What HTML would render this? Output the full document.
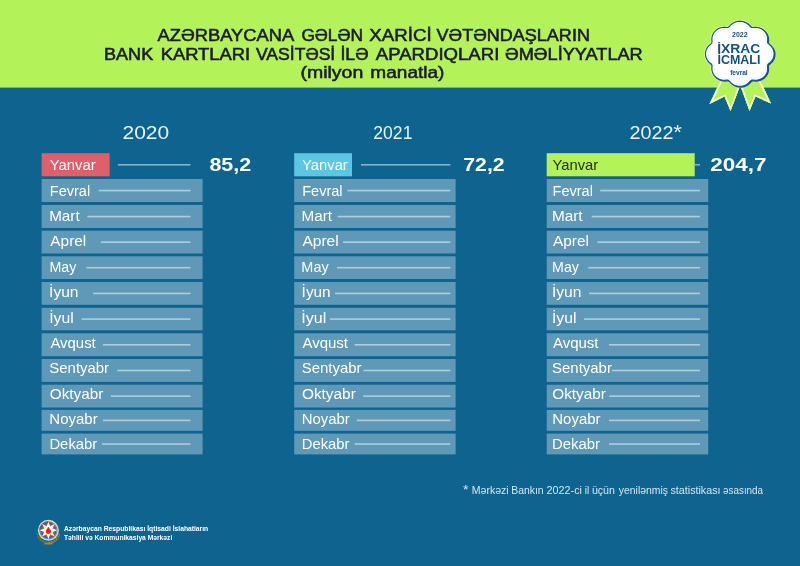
<!DOCTYPE html>
<html lang="az"><head><meta charset="utf-8"><title>Infographic</title><style>
html,body{margin:0;padding:0}
body{width:800px;height:566px;overflow:hidden;background:#0e648f;position:relative;font-family:"Liberation Sans",sans-serif}
.h{position:absolute;left:0;top:0;width:800px;height:87px;background:#b4f25a}
.h2{position:absolute;left:0;top:87px;width:800px;height:1px;background:#b4f25a;opacity:0.6}
svg{position:absolute;left:0;top:0;will-change:transform}
text{font-family:"Liberation Sans",sans-serif;white-space:pre}
</style></head>
<body>
<div class="h"></div><div class="h2"></div>
<svg width="800" height="566" viewBox="0 0 800 566">
<rect x="41.6" y="153.2" width="68.0" height="23.1" fill="#e0606a"/>
<rect x="117.9" y="164.00" width="72.6" height="1.6" fill="#fff" fill-opacity="0.5"/>
<rect x="41.6" y="179.0" width="161.0" height="23.0" fill="#6099b7"/>
<rect x="98.7" y="189.75" width="91.8" height="1.6" fill="#fff" fill-opacity="0.5"/>
<rect x="41.6" y="205.0" width="161.0" height="23.0" fill="#6099b7"/>
<rect x="87.2" y="215.75" width="103.3" height="1.6" fill="#fff" fill-opacity="0.5"/>
<rect x="41.6" y="230.7" width="161.0" height="22.8" fill="#6099b7"/>
<rect x="100.8" y="241.35" width="89.7" height="1.6" fill="#fff" fill-opacity="0.5"/>
<rect x="41.6" y="256.3" width="161.0" height="22.7" fill="#6099b7"/>
<rect x="86.4" y="266.90" width="104.1" height="1.6" fill="#fff" fill-opacity="0.5"/>
<rect x="41.6" y="282.0" width="161.0" height="22.8" fill="#6099b7"/>
<rect x="93.1" y="292.65" width="97.4" height="1.6" fill="#fff" fill-opacity="0.5"/>
<rect x="41.6" y="307.8" width="161.0" height="22.5" fill="#6099b7"/>
<rect x="81.6" y="318.30" width="108.9" height="1.6" fill="#fff" fill-opacity="0.5"/>
<rect x="41.6" y="333.3" width="161.0" height="22.9" fill="#6099b7"/>
<rect x="103" y="344.00" width="87.5" height="1.6" fill="#fff" fill-opacity="0.5"/>
<rect x="41.6" y="359.0" width="161.0" height="22.9" fill="#6099b7"/>
<rect x="117.3" y="369.70" width="73.2" height="1.6" fill="#fff" fill-opacity="0.5"/>
<rect x="41.6" y="384.7" width="161.0" height="22.8" fill="#6099b7"/>
<rect x="110.9" y="395.35" width="79.6" height="1.6" fill="#fff" fill-opacity="0.5"/>
<rect x="41.6" y="409.9" width="161.0" height="20.9" fill="#6099b7"/>
<rect x="103" y="419.60" width="87.5" height="1.6" fill="#fff" fill-opacity="0.5"/>
<rect x="41.6" y="433.6" width="161.0" height="20.8" fill="#6099b7"/>
<rect x="101.9" y="443.25" width="88.6" height="1.6" fill="#fff" fill-opacity="0.5"/>
<rect x="294.2" y="153.2" width="57.8" height="23.1" fill="#5cc7e3"/>
<rect x="361" y="164.00" width="89.4" height="1.6" fill="#fff" fill-opacity="0.5"/>
<rect x="294.2" y="179.0" width="161.4" height="23.0" fill="#6099b7"/>
<rect x="347.5" y="189.75" width="102.9" height="1.6" fill="#fff" fill-opacity="0.5"/>
<rect x="294.2" y="205.0" width="161.4" height="23.0" fill="#6099b7"/>
<rect x="337.6" y="215.75" width="112.8" height="1.6" fill="#fff" fill-opacity="0.5"/>
<rect x="294.2" y="230.7" width="161.4" height="22.8" fill="#6099b7"/>
<rect x="343" y="241.35" width="107.4" height="1.6" fill="#fff" fill-opacity="0.5"/>
<rect x="294.2" y="256.3" width="161.4" height="22.7" fill="#6099b7"/>
<rect x="337" y="266.90" width="113.4" height="1.6" fill="#fff" fill-opacity="0.5"/>
<rect x="294.2" y="282.0" width="161.4" height="22.8" fill="#6099b7"/>
<rect x="335" y="292.65" width="115.4" height="1.6" fill="#fff" fill-opacity="0.5"/>
<rect x="294.2" y="307.8" width="161.4" height="22.5" fill="#6099b7"/>
<rect x="330" y="318.30" width="120.4" height="1.6" fill="#fff" fill-opacity="0.5"/>
<rect x="294.2" y="333.3" width="161.4" height="22.9" fill="#6099b7"/>
<rect x="354.6" y="344.00" width="95.8" height="1.6" fill="#fff" fill-opacity="0.5"/>
<rect x="294.2" y="359.0" width="161.4" height="22.9" fill="#6099b7"/>
<rect x="363.4" y="369.70" width="87.0" height="1.6" fill="#fff" fill-opacity="0.5"/>
<rect x="294.2" y="384.7" width="161.4" height="22.8" fill="#6099b7"/>
<rect x="363.4" y="395.35" width="87.0" height="1.6" fill="#fff" fill-opacity="0.5"/>
<rect x="294.2" y="409.9" width="161.4" height="20.9" fill="#6099b7"/>
<rect x="356.8" y="419.60" width="93.6" height="1.6" fill="#fff" fill-opacity="0.5"/>
<rect x="294.2" y="433.6" width="161.4" height="20.8" fill="#6099b7"/>
<rect x="354.6" y="443.25" width="95.8" height="1.6" fill="#fff" fill-opacity="0.5"/>
<rect x="546.7" y="153.2" width="148.0" height="23.1" fill="#b4f25a"/>
<rect x="694.7" y="164.00" width="5.3" height="1.6" fill="#fff" fill-opacity="0.5"/>
<rect x="546.7" y="179.0" width="161.5" height="23.0" fill="#6099b7"/>
<rect x="600.2" y="189.75" width="99.8" height="1.6" fill="#fff" fill-opacity="0.5"/>
<rect x="546.7" y="205.0" width="161.5" height="23.0" fill="#6099b7"/>
<rect x="591.7" y="215.75" width="108.3" height="1.6" fill="#fff" fill-opacity="0.5"/>
<rect x="546.7" y="230.7" width="161.5" height="22.8" fill="#6099b7"/>
<rect x="597.4" y="241.35" width="102.6" height="1.6" fill="#fff" fill-opacity="0.5"/>
<rect x="546.7" y="256.3" width="161.5" height="22.7" fill="#6099b7"/>
<rect x="588.4" y="266.90" width="111.6" height="1.6" fill="#fff" fill-opacity="0.5"/>
<rect x="546.7" y="282.0" width="161.5" height="22.8" fill="#6099b7"/>
<rect x="589" y="292.65" width="111.0" height="1.6" fill="#fff" fill-opacity="0.5"/>
<rect x="546.7" y="307.8" width="161.5" height="22.5" fill="#6099b7"/>
<rect x="584" y="318.30" width="116.0" height="1.6" fill="#fff" fill-opacity="0.5"/>
<rect x="546.7" y="333.3" width="161.5" height="22.9" fill="#6099b7"/>
<rect x="609" y="344.00" width="91.0" height="1.6" fill="#fff" fill-opacity="0.5"/>
<rect x="546.7" y="359.0" width="161.5" height="22.9" fill="#6099b7"/>
<rect x="611.8" y="369.70" width="88.2" height="1.6" fill="#fff" fill-opacity="0.5"/>
<rect x="546.7" y="384.7" width="161.5" height="22.8" fill="#6099b7"/>
<rect x="609.4" y="395.35" width="90.6" height="1.6" fill="#fff" fill-opacity="0.5"/>
<rect x="546.7" y="409.9" width="161.5" height="20.9" fill="#6099b7"/>
<rect x="609" y="419.60" width="91.0" height="1.6" fill="#fff" fill-opacity="0.5"/>
<rect x="546.7" y="433.6" width="161.5" height="20.8" fill="#6099b7"/>
<rect x="609" y="443.25" width="91.0" height="1.6" fill="#fff" fill-opacity="0.5"/>
<defs><clipPath id="cl"><polygon points="721.0,79.5 709.5,104.0 724.5,96.5 730.5,111.0 739.5,87.5 733,78"/></clipPath><clipPath id="cr"><polygon points="759.5,79.0 771.0,103.5 755.5,96.5 749.5,111.0 741.0,87.5 747,78"/></clipPath></defs>
<polygon points="721.0,79.5 709.5,104.0 724.5,96.5 730.5,111.0 739.5,87.5 733,78" fill="#b4f25a"/>
<g clip-path="url(#cl)"><polygon points="721.0,79.5 709.5,104.0 724.5,96.5 730.5,111.0 739.5,87.5 733,78" fill="none" stroke="#ffffff" stroke-width="3.4" stroke-linejoin="miter"/><polygon points="721.0,79.5 709.5,104.0 724.5,96.5 730.5,111.0 739.5,87.5 733,78" fill="none" stroke="#d9fb55" stroke-width="1.3" stroke-linejoin="miter"/></g>
<polygon points="759.5,79.0 771.0,103.5 755.5,96.5 749.5,111.0 741.0,87.5 747,78" fill="#b4f25a"/>
<g clip-path="url(#cr)"><polygon points="759.5,79.0 771.0,103.5 755.5,96.5 749.5,111.0 741.0,87.5 747,78" fill="none" stroke="#ffffff" stroke-width="3.4" stroke-linejoin="miter"/><polygon points="759.5,79.0 771.0,103.5 755.5,96.5 749.5,111.0 741.0,87.5 747,78" fill="none" stroke="#d9fb55" stroke-width="1.3" stroke-linejoin="miter"/></g>
<path d="M774.10,53.80L774.04,54.93L773.87,56.06L773.58,57.17L773.18,58.25L772.67,59.29L772.04,60.30L771.30,61.25L770.46,62.13L769.52,62.95L768.57,63.73L767.84,64.54L767.55,65.51L767.59,66.65L767.68,67.85L767.68,69.06L767.55,70.24L767.31,71.39L766.94,72.50L766.47,73.56L765.90,74.56L765.23,75.51L764.47,76.38L763.62,77.18L762.70,77.91L761.70,78.54L760.64,79.09L759.52,79.53L758.35,79.87L757.14,80.11L755.90,80.23L754.62,80.23L753.35,80.14L752.15,80.11L751.13,80.38L750.27,81.07L749.46,81.97L748.59,82.86L747.65,83.67L746.65,84.36L745.60,84.96L744.49,85.45L743.35,85.83L742.18,86.10L741.00,86.26L739.80,86.32L738.60,86.26L737.42,86.10L736.25,85.83L735.11,85.45L734.00,84.96L732.95,84.36L731.95,83.67L731.01,82.86L730.14,81.97L729.33,81.07L728.47,80.38L727.45,80.11L726.25,80.14L724.98,80.23L723.70,80.23L722.46,80.11L721.25,79.87L720.08,79.53L718.96,79.09L717.90,78.54L716.90,77.91L715.98,77.18L715.13,76.38L714.37,75.51L713.70,74.56L713.13,73.56L712.66,72.50L712.29,71.39L712.05,70.24L711.92,69.06L711.92,67.85L712.01,66.65L712.05,65.51L711.76,64.54L711.03,63.73L710.08,62.95L709.14,62.13L708.30,61.25L707.56,60.30L706.93,59.29L706.42,58.25L706.02,57.17L705.73,56.06L705.56,54.93L705.50,53.80L705.56,52.67L705.73,51.54L706.02,50.43L706.42,49.35L706.93,48.31L707.56,47.30L708.30,46.35L709.14,45.47L710.08,44.65L711.03,43.87L711.76,43.06L712.05,42.09L712.01,40.95L711.92,39.75L711.92,38.54L712.05,37.36L712.29,36.21L712.66,35.10L713.13,34.04L713.70,33.04L714.37,32.09L715.13,31.22L715.98,30.42L716.90,29.69L717.90,29.06L718.96,28.51L720.08,28.07L721.25,27.73L722.46,27.49L723.70,27.37L724.98,27.37L726.25,27.46L727.45,27.49L728.47,27.22L729.33,26.53L730.14,25.63L731.01,24.74L731.95,23.93L732.95,23.24L734.00,22.64L735.11,22.15L736.25,21.77L737.42,21.50L738.60,21.34L739.80,21.28L741.00,21.34L742.18,21.50L743.35,21.77L744.49,22.15L745.60,22.64L746.65,23.24L747.65,23.93L748.59,24.74L749.46,25.63L750.27,26.53L751.13,27.22L752.15,27.49L753.35,27.46L754.62,27.37L755.90,27.37L757.14,27.49L758.35,27.73L759.52,28.07L760.64,28.51L761.70,29.06L762.70,29.69L763.62,30.42L764.47,31.22L765.23,32.09L765.90,33.04L766.47,34.04L766.94,35.10L767.31,36.21L767.55,37.36L767.68,38.54L767.68,39.75L767.59,40.95L767.55,42.09L767.84,43.06L768.57,43.87L769.52,44.65L770.46,45.47L771.30,46.35L772.04,47.30L772.67,48.31L773.18,49.35L773.58,50.43L773.87,51.54L774.04,52.67Z" fill="none" stroke="#dcfb8a" stroke-width="3.4" stroke-linejoin="round" opacity="0.7"/>
<path d="M774.10,53.80L774.04,54.93L773.87,56.06L773.58,57.17L773.18,58.25L772.67,59.29L772.04,60.30L771.30,61.25L770.46,62.13L769.52,62.95L768.57,63.73L767.84,64.54L767.55,65.51L767.59,66.65L767.68,67.85L767.68,69.06L767.55,70.24L767.31,71.39L766.94,72.50L766.47,73.56L765.90,74.56L765.23,75.51L764.47,76.38L763.62,77.18L762.70,77.91L761.70,78.54L760.64,79.09L759.52,79.53L758.35,79.87L757.14,80.11L755.90,80.23L754.62,80.23L753.35,80.14L752.15,80.11L751.13,80.38L750.27,81.07L749.46,81.97L748.59,82.86L747.65,83.67L746.65,84.36L745.60,84.96L744.49,85.45L743.35,85.83L742.18,86.10L741.00,86.26L739.80,86.32L738.60,86.26L737.42,86.10L736.25,85.83L735.11,85.45L734.00,84.96L732.95,84.36L731.95,83.67L731.01,82.86L730.14,81.97L729.33,81.07L728.47,80.38L727.45,80.11L726.25,80.14L724.98,80.23L723.70,80.23L722.46,80.11L721.25,79.87L720.08,79.53L718.96,79.09L717.90,78.54L716.90,77.91L715.98,77.18L715.13,76.38L714.37,75.51L713.70,74.56L713.13,73.56L712.66,72.50L712.29,71.39L712.05,70.24L711.92,69.06L711.92,67.85L712.01,66.65L712.05,65.51L711.76,64.54L711.03,63.73L710.08,62.95L709.14,62.13L708.30,61.25L707.56,60.30L706.93,59.29L706.42,58.25L706.02,57.17L705.73,56.06L705.56,54.93L705.50,53.80L705.56,52.67L705.73,51.54L706.02,50.43L706.42,49.35L706.93,48.31L707.56,47.30L708.30,46.35L709.14,45.47L710.08,44.65L711.03,43.87L711.76,43.06L712.05,42.09L712.01,40.95L711.92,39.75L711.92,38.54L712.05,37.36L712.29,36.21L712.66,35.10L713.13,34.04L713.70,33.04L714.37,32.09L715.13,31.22L715.98,30.42L716.90,29.69L717.90,29.06L718.96,28.51L720.08,28.07L721.25,27.73L722.46,27.49L723.70,27.37L724.98,27.37L726.25,27.46L727.45,27.49L728.47,27.22L729.33,26.53L730.14,25.63L731.01,24.74L731.95,23.93L732.95,23.24L734.00,22.64L735.11,22.15L736.25,21.77L737.42,21.50L738.60,21.34L739.80,21.28L741.00,21.34L742.18,21.50L743.35,21.77L744.49,22.15L745.60,22.64L746.65,23.24L747.65,23.93L748.59,24.74L749.46,25.63L750.27,26.53L751.13,27.22L752.15,27.49L753.35,27.46L754.62,27.37L755.90,27.37L757.14,27.49L758.35,27.73L759.52,28.07L760.64,28.51L761.70,29.06L762.70,29.69L763.62,30.42L764.47,31.22L765.23,32.09L765.90,33.04L766.47,34.04L766.94,35.10L767.31,36.21L767.55,37.36L767.68,38.54L767.68,39.75L767.59,40.95L767.55,42.09L767.84,43.06L768.57,43.87L769.52,44.65L770.46,45.47L771.30,46.35L772.04,47.30L772.67,48.31L773.18,49.35L773.58,50.43L773.87,51.54L774.04,52.67Z" transform="translate(0.7,0.6)" fill="#17538f" stroke="#17538f" stroke-width="1.6" stroke-linejoin="round"/>
<path d="M774.10,53.80L774.04,54.93L773.87,56.06L773.58,57.17L773.18,58.25L772.67,59.29L772.04,60.30L771.30,61.25L770.46,62.13L769.52,62.95L768.57,63.73L767.84,64.54L767.55,65.51L767.59,66.65L767.68,67.85L767.68,69.06L767.55,70.24L767.31,71.39L766.94,72.50L766.47,73.56L765.90,74.56L765.23,75.51L764.47,76.38L763.62,77.18L762.70,77.91L761.70,78.54L760.64,79.09L759.52,79.53L758.35,79.87L757.14,80.11L755.90,80.23L754.62,80.23L753.35,80.14L752.15,80.11L751.13,80.38L750.27,81.07L749.46,81.97L748.59,82.86L747.65,83.67L746.65,84.36L745.60,84.96L744.49,85.45L743.35,85.83L742.18,86.10L741.00,86.26L739.80,86.32L738.60,86.26L737.42,86.10L736.25,85.83L735.11,85.45L734.00,84.96L732.95,84.36L731.95,83.67L731.01,82.86L730.14,81.97L729.33,81.07L728.47,80.38L727.45,80.11L726.25,80.14L724.98,80.23L723.70,80.23L722.46,80.11L721.25,79.87L720.08,79.53L718.96,79.09L717.90,78.54L716.90,77.91L715.98,77.18L715.13,76.38L714.37,75.51L713.70,74.56L713.13,73.56L712.66,72.50L712.29,71.39L712.05,70.24L711.92,69.06L711.92,67.85L712.01,66.65L712.05,65.51L711.76,64.54L711.03,63.73L710.08,62.95L709.14,62.13L708.30,61.25L707.56,60.30L706.93,59.29L706.42,58.25L706.02,57.17L705.73,56.06L705.56,54.93L705.50,53.80L705.56,52.67L705.73,51.54L706.02,50.43L706.42,49.35L706.93,48.31L707.56,47.30L708.30,46.35L709.14,45.47L710.08,44.65L711.03,43.87L711.76,43.06L712.05,42.09L712.01,40.95L711.92,39.75L711.92,38.54L712.05,37.36L712.29,36.21L712.66,35.10L713.13,34.04L713.70,33.04L714.37,32.09L715.13,31.22L715.98,30.42L716.90,29.69L717.90,29.06L718.96,28.51L720.08,28.07L721.25,27.73L722.46,27.49L723.70,27.37L724.98,27.37L726.25,27.46L727.45,27.49L728.47,27.22L729.33,26.53L730.14,25.63L731.01,24.74L731.95,23.93L732.95,23.24L734.00,22.64L735.11,22.15L736.25,21.77L737.42,21.50L738.60,21.34L739.80,21.28L741.00,21.34L742.18,21.50L743.35,21.77L744.49,22.15L745.60,22.64L746.65,23.24L747.65,23.93L748.59,24.74L749.46,25.63L750.27,26.53L751.13,27.22L752.15,27.49L753.35,27.46L754.62,27.37L755.90,27.37L757.14,27.49L758.35,27.73L759.52,28.07L760.64,28.51L761.70,29.06L762.70,29.69L763.62,30.42L764.47,31.22L765.23,32.09L765.90,33.04L766.47,34.04L766.94,35.10L767.31,36.21L767.55,37.36L767.68,38.54L767.68,39.75L767.59,40.95L767.55,42.09L767.84,43.06L768.57,43.87L769.52,44.65L770.46,45.47L771.30,46.35L772.04,47.30L772.67,48.31L773.18,49.35L773.58,50.43L773.87,51.54L774.04,52.67Z" fill="#fdfeff" stroke="#17538f" stroke-width="1.1" stroke-linejoin="round"/>
<path d="M774.10,53.80L774.04,54.93L773.87,56.06L773.58,57.17L773.18,58.25L772.67,59.29L772.04,60.30L771.30,61.25L770.46,62.13L769.52,62.95L768.57,63.73L767.84,64.54L767.55,65.51L767.59,66.65L767.68,67.85L767.68,69.06L767.55,70.24L767.31,71.39L766.94,72.50L766.47,73.56L765.90,74.56L765.23,75.51L764.47,76.38L763.62,77.18L762.70,77.91L761.70,78.54L760.64,79.09L759.52,79.53L758.35,79.87L757.14,80.11L755.90,80.23L754.62,80.23L753.35,80.14L752.15,80.11L751.13,80.38L750.27,81.07L749.46,81.97L748.59,82.86L747.65,83.67L746.65,84.36L745.60,84.96L744.49,85.45L743.35,85.83L742.18,86.10L741.00,86.26L739.80,86.32L738.60,86.26L737.42,86.10L736.25,85.83L735.11,85.45L734.00,84.96L732.95,84.36L731.95,83.67L731.01,82.86L730.14,81.97L729.33,81.07L728.47,80.38L727.45,80.11L726.25,80.14L724.98,80.23L723.70,80.23L722.46,80.11L721.25,79.87L720.08,79.53L718.96,79.09L717.90,78.54L716.90,77.91L715.98,77.18L715.13,76.38L714.37,75.51L713.70,74.56L713.13,73.56L712.66,72.50L712.29,71.39L712.05,70.24L711.92,69.06L711.92,67.85L712.01,66.65L712.05,65.51L711.76,64.54L711.03,63.73L710.08,62.95L709.14,62.13L708.30,61.25L707.56,60.30L706.93,59.29L706.42,58.25L706.02,57.17L705.73,56.06L705.56,54.93L705.50,53.80L705.56,52.67L705.73,51.54L706.02,50.43L706.42,49.35L706.93,48.31L707.56,47.30L708.30,46.35L709.14,45.47L710.08,44.65L711.03,43.87L711.76,43.06L712.05,42.09L712.01,40.95L711.92,39.75L711.92,38.54L712.05,37.36L712.29,36.21L712.66,35.10L713.13,34.04L713.70,33.04L714.37,32.09L715.13,31.22L715.98,30.42L716.90,29.69L717.90,29.06L718.96,28.51L720.08,28.07L721.25,27.73L722.46,27.49L723.70,27.37L724.98,27.37L726.25,27.46L727.45,27.49L728.47,27.22L729.33,26.53L730.14,25.63L731.01,24.74L731.95,23.93L732.95,23.24L734.00,22.64L735.11,22.15L736.25,21.77L737.42,21.50L738.60,21.34L739.80,21.28L741.00,21.34L742.18,21.50L743.35,21.77L744.49,22.15L745.60,22.64L746.65,23.24L747.65,23.93L748.59,24.74L749.46,25.63L750.27,26.53L751.13,27.22L752.15,27.49L753.35,27.46L754.62,27.37L755.90,27.37L757.14,27.49L758.35,27.73L759.52,28.07L760.64,28.51L761.70,29.06L762.70,29.69L763.62,30.42L764.47,31.22L765.23,32.09L765.90,33.04L766.47,34.04L766.94,35.10L767.31,36.21L767.55,37.36L767.68,38.54L767.68,39.75L767.59,40.95L767.55,42.09L767.84,43.06L768.57,43.87L769.52,44.65L770.46,45.47L771.30,46.35L772.04,47.30L772.67,48.31L773.18,49.35L773.58,50.43L773.87,51.54L774.04,52.67Z" transform="translate(55.48,4.03) scale(0.925)" fill="none" stroke="#c7d9ec" stroke-width="0.6" stroke-dasharray="1.2 0.8" stroke-linejoin="round"/>
<path d="M38.00,534.90 A11.4,11.4 0 0 0 48.40,542.90" fill="none" stroke="#5f7f2e" stroke-width="2.6" stroke-linecap="round" opacity="0.9"/>
<path d="M58.80,534.90 A11.4,11.4 0 0 1 48.40,542.90" fill="none" stroke="#9c7a38" stroke-width="2.6" stroke-linecap="round" opacity="0.9"/>
<path d="M38.00,534.90 A11.4,11.4 0 0 0 58.80,534.90" fill="none" stroke="#2e4a3a" stroke-width="1.4" stroke-dasharray="1.2 1.6" opacity="0.7"/>
<path d="M44.90,543.70 L51.90,543.70" stroke="#b08a3e" stroke-width="1.6" stroke-linecap="round" opacity="0.85"/>
<circle cx="48.4" cy="530.3" r="10.5" fill="#e9d58c"/>
<circle cx="48.4" cy="530.3" r="9.8" fill="#f6f3e4"/>
<circle cx="48.4" cy="530.3" r="9.3" fill="#27a8ec"/>
<path d="M39.20,530.30 A9.2,9.2 0 0 1 48.40,521.10 L48.4,530.3 Z" fill="#1b3f9a" opacity="0.55"/>
<circle cx="48.4" cy="530.3" r="8.0" fill="#e3241c"/>
<circle cx="48.4" cy="530.3" r="6.4" fill="#1fa83c"/>
<polygon points="48.40,521.40 50.08,526.23 54.69,524.01 52.47,528.62 57.30,530.30 52.47,531.98 54.69,536.59 50.08,534.37 48.40,539.20 46.72,534.37 42.11,536.59 44.33,531.98 39.50,530.30 44.33,528.62 42.11,524.01 46.72,526.23" fill="#ffffff"/>
<path d="M48.4,526.6999999999999 C49.4,528.5 51.1,529.6999999999999 51.1,531.3 C51.1,533.0999999999999 49.8,533.9 48.4,533.9 C47.0,533.9 45.699999999999996,533.0999999999999 45.699999999999996,531.3 C45.699999999999996,529.6999999999999 47.4,528.5 48.4,526.6999999999999Z" fill="#e8231a"/>
<text transform="translate(157.59,41) scale(1.1041,1)" style="font-size:16.6px;font-weight:400;fill:#1c1b2b;stroke:#1c1b2b;stroke-width:0.55px;">AZƏRBAYCANA</text>
<text transform="translate(301.40,41) scale(1.0427,1)" style="font-size:16.6px;font-weight:400;fill:#1c1b2b;stroke:#1c1b2b;stroke-width:0.55px;">GƏLƏN</text>
<text transform="translate(369.34,41) scale(1.1274,1)" style="font-size:16.6px;font-weight:400;fill:#1c1b2b;stroke:#1c1b2b;stroke-width:0.55px;">XARİCİ</text>
<text transform="translate(436.54,41) scale(1.0863,1)" style="font-size:16.6px;font-weight:400;fill:#1c1b2b;stroke:#1c1b2b;stroke-width:0.55px;">VƏTƏNDAŞLARIN</text>
<text transform="translate(104.07,60) scale(1.0866,1)" style="font-size:16.6px;font-weight:400;fill:#1c1b2b;stroke:#1c1b2b;stroke-width:0.55px;">BANK</text>
<text transform="translate(160.68,60) scale(1.1077,1)" style="font-size:16.6px;font-weight:400;fill:#1c1b2b;stroke:#1c1b2b;stroke-width:0.55px;">KARTLARI</text>
<text transform="translate(255.90,60) scale(1.0599,1)" style="font-size:16.6px;font-weight:400;fill:#1c1b2b;stroke:#1c1b2b;stroke-width:0.55px;">VASİTƏSİ</text>
<text transform="translate(340.40,60) scale(1.0698,1)" style="font-size:16.6px;font-weight:400;fill:#1c1b2b;stroke:#1c1b2b;stroke-width:0.55px;">İLƏ</text>
<text transform="translate(375.77,60) scale(1.1200,1)" style="font-size:16.6px;font-weight:400;fill:#1c1b2b;stroke:#1c1b2b;stroke-width:0.55px;">APARDIQLARI</text>
<text transform="translate(505.08,60) scale(1.0945,1)" style="font-size:16.6px;font-weight:400;fill:#1c1b2b;stroke:#1c1b2b;stroke-width:0.55px;">ƏMƏLİYYATLAR</text>
<text transform="translate(300.41,78) scale(1.1754,1)" style="font-size:16.6px;font-weight:400;fill:#1c1b2b;stroke:#1c1b2b;stroke-width:0.55px;">(milyon</text>
<text transform="translate(370.35,78) scale(1.1468,1)" style="font-size:16.6px;font-weight:400;fill:#1c1b2b;stroke:#1c1b2b;stroke-width:0.55px;">manatla)</text>
<text transform="translate(122.53,139) scale(1.1652,1)" style="font-size:18.0px;font-weight:400;fill:#eaf3f8;">2020</text>
<text transform="translate(373.32,139) scale(0.9768,1)" style="font-size:18.0px;font-weight:400;fill:#eaf3f8;">2021</text>
<text transform="translate(629.45,139) scale(1.0990,1)" style="font-size:18.0px;font-weight:400;fill:#eaf3f8;">2022</text>
<text transform="translate(673.35,139) scale(1.0626,1)" style="font-size:21.0px;font-weight:400;fill:#eaf3f8;">*</text>
<text transform="translate(209.45,171) scale(1.1166,1)" style="font-size:19.2px;font-weight:700;fill:#fff;">85,2</text>
<text transform="translate(463.31,171) scale(1.1064,1)" style="font-size:19.2px;font-weight:700;fill:#fff;">72,2</text>
<text transform="translate(710.36,171) scale(1.1679,1)" style="font-size:19.2px;font-weight:700;fill:#fff;">204,7</text>
<text transform="translate(49.71,170) scale(1.0549,1)" style="font-size:14.1px;font-weight:400;fill:#fff;">Yanvar</text>
<text transform="translate(49.82,196) scale(1.0308,1)" style="font-size:14.1px;font-weight:400;fill:#fff;">Fevral</text>
<text transform="translate(49.13,221) scale(1.0837,1)" style="font-size:14.1px;font-weight:400;fill:#fff;">Mart</text>
<text transform="translate(50.35,246) scale(1.0926,1)" style="font-size:14.1px;font-weight:400;fill:#fff;">Aprel</text>
<text transform="translate(49.39,272) scale(1.0126,1)" style="font-size:14.1px;font-weight:400;fill:#fff;">May</text>
<text transform="translate(49.11,297) scale(1.1044,1)" style="font-size:14.1px;font-weight:400;fill:#fff;">İyun</text>
<text transform="translate(49.21,323) scale(1.1213,1)" style="font-size:14.1px;font-weight:400;fill:#fff;">İyul</text>
<text transform="translate(50.38,348) scale(1.0598,1)" style="font-size:14.1px;font-weight:400;fill:#fff;">Avqust</text>
<text transform="translate(49.32,373) scale(1.0605,1)" style="font-size:14.1px;font-weight:400;fill:#fff;">Sentyabr</text>
<text transform="translate(49.83,399) scale(1.0822,1)" style="font-size:14.1px;font-weight:400;fill:#fff;">Oktyabr</text>
<text transform="translate(49.36,424) scale(1.0631,1)" style="font-size:14.1px;font-weight:400;fill:#fff;">Noyabr</text>
<text transform="translate(49.40,449) scale(1.0541,1)" style="font-size:14.1px;font-weight:400;fill:#fff;">Dekabr</text>
<text transform="translate(302.06,170) scale(1.0490,1)" style="font-size:14.1px;font-weight:400;fill:#fff;">Yanvar</text>
<text transform="translate(302.19,196) scale(1.0313,1)" style="font-size:14.1px;font-weight:400;fill:#fff;">Fevral</text>
<text transform="translate(301.50,221) scale(1.0833,1)" style="font-size:14.1px;font-weight:400;fill:#fff;">Mart</text>
<text transform="translate(302.39,246) scale(1.1022,1)" style="font-size:14.1px;font-weight:400;fill:#fff;">Aprel</text>
<text transform="translate(301.36,272) scale(1.0258,1)" style="font-size:14.1px;font-weight:400;fill:#fff;">May</text>
<text transform="translate(301.61,297) scale(1.0897,1)" style="font-size:14.1px;font-weight:400;fill:#fff;">İyun</text>
<text transform="translate(301.31,323) scale(1.1395,1)" style="font-size:14.1px;font-weight:400;fill:#fff;">İyul</text>
<text transform="translate(302.41,348) scale(1.0655,1)" style="font-size:14.1px;font-weight:400;fill:#fff;">Avqust</text>
<text transform="translate(301.71,373) scale(1.0599,1)" style="font-size:14.1px;font-weight:400;fill:#fff;">Sentyabr</text>
<text transform="translate(301.92,399) scale(1.0911,1)" style="font-size:14.1px;font-weight:400;fill:#fff;">Oktyabr</text>
<text transform="translate(301.79,424) scale(1.0579,1)" style="font-size:14.1px;font-weight:400;fill:#fff;">Noyabr</text>
<text transform="translate(301.79,449) scale(1.0482,1)" style="font-size:14.1px;font-weight:400;fill:#fff;">Dekabr</text>
<text transform="translate(552.46,170) scale(1.0491,1)" style="font-size:14.1px;font-weight:400;fill:#23301c;">Yanvar</text>
<text transform="translate(552.49,196) scale(1.0337,1)" style="font-size:14.1px;font-weight:400;fill:#fff;">Fevral</text>
<text transform="translate(551.91,221) scale(1.0896,1)" style="font-size:14.1px;font-weight:400;fill:#fff;">Mart</text>
<text transform="translate(552.98,246) scale(1.0927,1)" style="font-size:14.1px;font-weight:400;fill:#fff;">Aprel</text>
<text transform="translate(552.04,272) scale(1.0106,1)" style="font-size:14.1px;font-weight:400;fill:#fff;">May</text>
<text transform="translate(552.03,297) scale(1.1033,1)" style="font-size:14.1px;font-weight:400;fill:#fff;">İyun</text>
<text transform="translate(551.91,323) scale(1.1174,1)" style="font-size:14.1px;font-weight:400;fill:#fff;">İyul</text>
<text transform="translate(553.00,348) scale(1.0625,1)" style="font-size:14.1px;font-weight:400;fill:#fff;">Avqust</text>
<text transform="translate(552.12,373) scale(1.0588,1)" style="font-size:14.1px;font-weight:400;fill:#fff;">Sentyabr</text>
<text transform="translate(552.34,399) scale(1.0844,1)" style="font-size:14.1px;font-weight:400;fill:#fff;">Oktyabr</text>
<text transform="translate(552.28,424) scale(1.0627,1)" style="font-size:14.1px;font-weight:400;fill:#fff;">Noyabr</text>
<text transform="translate(552.05,449) scale(1.0566,1)" style="font-size:14.1px;font-weight:400;fill:#fff;">Dekabr</text>
<text transform="translate(732.05,37) scale(1.0958,1)" style="font-size:6.4px;font-weight:700;fill:#164e8a;">2022</text>
<text transform="translate(717.26,53) scale(1.1666,1)" style="font-size:11.9px;font-weight:700;fill:#164e8a;">İXRAC</text>
<text transform="translate(717.53,64) scale(1.0480,1)" style="font-size:11.9px;font-weight:700;fill:#164e8a;">İCMALI</text>
<text transform="translate(730.14,75) scale(0.9986,1)" style="font-size:6.6px;font-weight:700;fill:#164e8a;">fevral</text>
<text transform="translate(462.91,494) scale(1.0436,1)" style="font-size:13.6px;font-weight:400;fill:#d6e6f0;">*</text>
<text transform="translate(471.87,494) scale(1.0310,1)" style="font-size:10.2px;font-weight:400;fill:#d6e6f0;">Mərkəzi</text>
<text transform="translate(511.20,494) scale(1.0227,1)" style="font-size:10.2px;font-weight:400;fill:#d6e6f0;">Bankın</text>
<text transform="translate(546.54,494) scale(1.0592,1)" style="font-size:10.2px;font-weight:400;fill:#d6e6f0;">2022-ci</text>
<text transform="translate(584.73,494) scale(1.0017,1)" style="font-size:10.2px;font-weight:400;fill:#d6e6f0;">il</text>
<text transform="translate(591.88,494) scale(1.0444,1)" style="font-size:10.2px;font-weight:400;fill:#d6e6f0;">üçün</text>
<text transform="translate(618.79,494) scale(1.0236,1)" style="font-size:10.2px;font-weight:400;fill:#d6e6f0;">yenilənmiş</text>
<text transform="translate(670.52,494) scale(1.0505,1)" style="font-size:10.2px;font-weight:400;fill:#d6e6f0;">statistikası</text>
<text transform="translate(723.10,494) scale(0.9659,1)" style="font-size:10.2px;font-weight:400;fill:#d6e6f0;">əsasında</text>
<text transform="translate(63.97,531) scale(0.9263,1)" style="font-size:7.3px;font-weight:700;fill:#fff;">Azərbaycan Respublikası İqtisadi İslahatların</text>
<text transform="translate(63.98,540) scale(0.9178,1)" style="font-size:7.3px;font-weight:700;fill:#fff;">Təhlili və Kommunikasiya Mərkəzi</text>
</svg>
</body></html>
